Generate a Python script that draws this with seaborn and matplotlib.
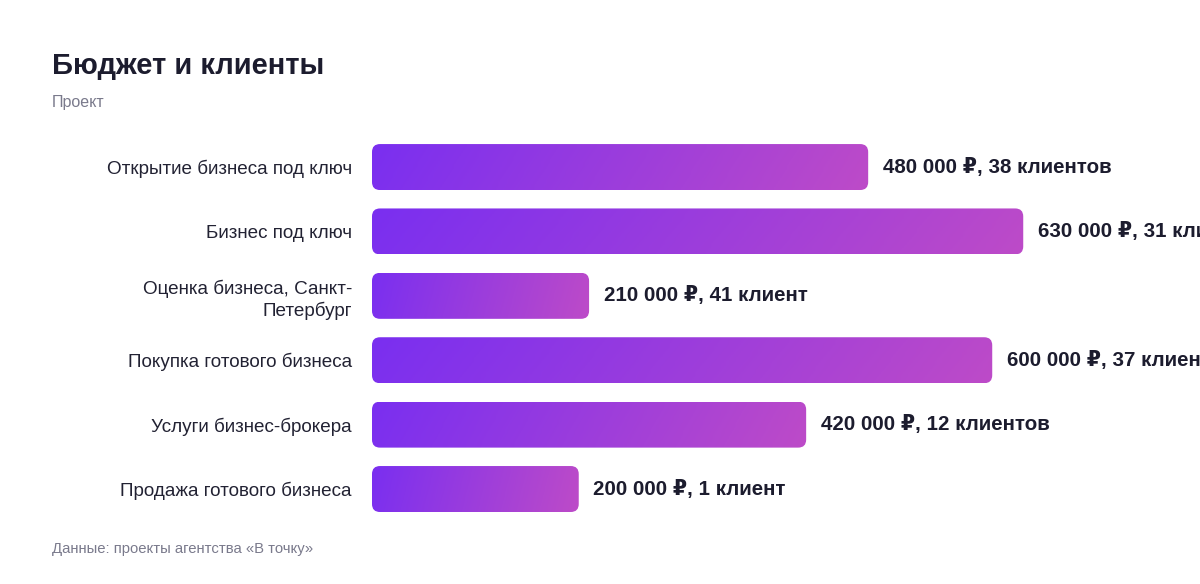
import numpy as np
import pandas as pd
import matplotlib
matplotlib.use("Agg")
import matplotlib.pyplot as plt
from matplotlib.patches import FancyBboxPatch
from matplotlib.colors import LinearSegmentedColormap
import seaborn as sns

services = [
    "Открытие бизнеса под ключ",
    "Бизнес под ключ",
    "Оценка бизнеса, Санкт-\nПетербург",
    "Покупка готового бизнеса",
    "Услуги бизнес-брокера",
    "Продажа готового бизнеса",
]
budgets = [480000, 630000, 210000, 600000, 420000, 200000]
clients = [38, 31, 41, 37, 12, 1]
client_words = ["клиентов", "клиентов", "клиент", "клиентов", "клиентов", "клиент"]

DARK = "#1c1c2e"
MUTED = "#7a7a8c"
GRAD = LinearSegmentedColormap.from_list("bar", ["#7a2ff0", "#bd4bc8"])

sns.set_theme(style="white")
plt.rcParams["font.family"] = ["Liberation Sans", "DejaVu Sans"]

df = pd.DataFrame({"service": services, "budget": budgets})

fig = plt.figure(figsize=(12, 5.84), dpi=100)
ax = fig.add_axes([0.31, 0.1075, 0.69, 0.6616])
sns.barplot(data=df, y="service", x="budget", orient="h", width=0.714,
            color="#7a2ff0", ax=ax)
ax.set_xlim(0, 801000)
ax.set_ylim(5.5, -0.5)

# units per pixel, for round corners
(px0, py0), (px1, py1) = ax.transData.transform([(0, 0), (100000, 1)])
xu = 100000 / abs(px1 - px0)
yu = 1 / abs(py1 - py0)
radius = 8 * xu
gx, gy = np.meshgrid(np.linspace(0, 1, 256), np.linspace(0, 1, 16))
grad = np.clip(gx * 0.95 + gy * 0.05, 0, 1)

for p, val, n, word in zip(ax.patches, budgets, clients, client_words):
    x0, y0, w, h = p.get_x(), p.get_y(), p.get_width(), p.get_height()
    p.set_visible(False)
    box = FancyBboxPatch((x0, y0), w, h,
                         boxstyle=f"round,pad=0,rounding_size={radius}",
                         mutation_aspect=yu / xu, facecolor="none",
                         edgecolor="none", transform=ax.transData)
    ax.add_patch(box)
    im = ax.imshow(grad, cmap=GRAD, aspect="auto",
                   extent=(x0, x0 + w, y0 + h, y0), zorder=2)
    im.set_clip_path(box)
    label = f"{val:,}".replace(",", " ") + f" ₽, {n} {word}"
    ax.annotate(label, (x0 + w, y0 + h / 2), xytext=(10.5, 0),
                textcoords="offset points", va="center", ha="left",
                fontsize=14.8, fontweight="bold", color=DARK,
                annotation_clip=False)

ax.set_xlim(0, 801000)
ax.set_ylim(5.5, -0.5)
ax.set_xlabel("")
ax.set_ylabel("")
ax.set_xticks([])
ax.tick_params(axis="y", length=0, pad=14.4, labelsize=13.6, labelcolor="#222233")
for t in ax.get_yticklabels():
    t.set_linespacing(1.3)
sns.despine(ax=ax, left=True, bottom=True)

fig.text(52 / 1200, 1 - 66 / 584, "Бюджет и клиенты", fontsize=21,
         fontweight="bold", color=DARK, va="center")
fig.text(52 / 1200, 1 - 102 / 584, "Проект", fontsize=11.5,
         color=MUTED, va="center")
fig.text(52 / 1200, 1 - 549 / 584, "Данные: проекты агентства «В точку»",
         fontsize=10.7, color=MUTED, va="center")

plt.savefig("out.png", dpi=100)
plt.close()
